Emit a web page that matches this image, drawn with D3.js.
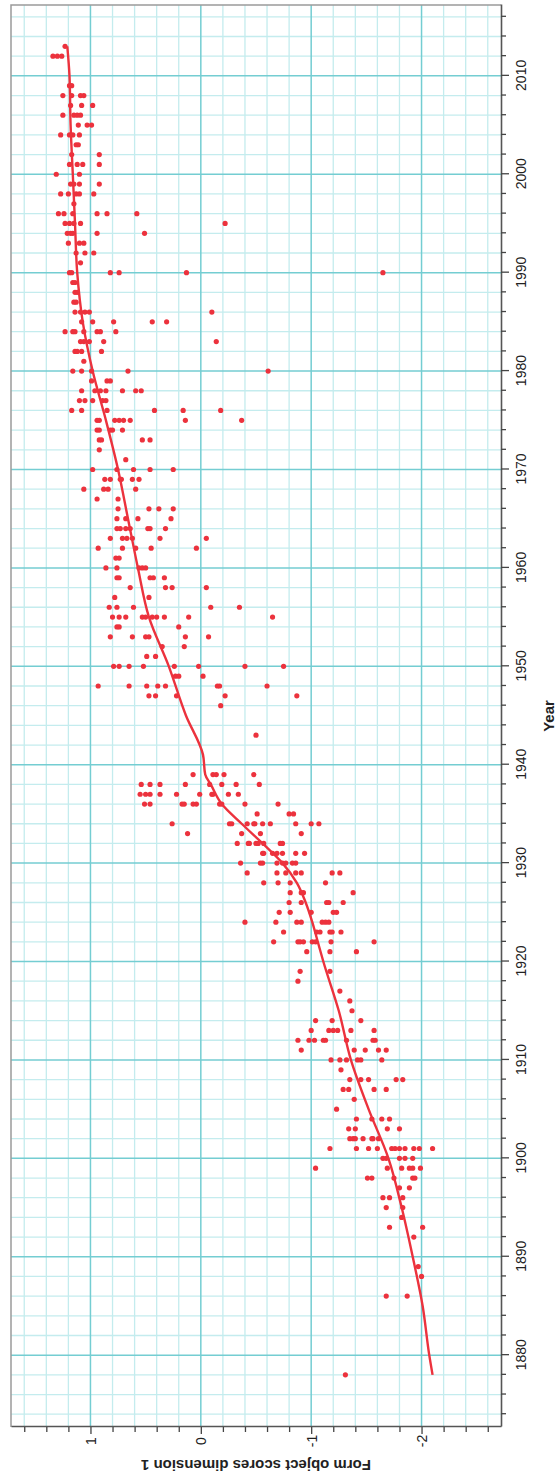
<!DOCTYPE html>
<html>
<head>
<meta charset="utf-8">
<script src="https://cdn.jsdelivr.net/npm/d3@7"></script>
<style>
body { margin: 0; background: #fff; }
svg text { font-family: Arial, "Liberation Sans", sans-serif; fill: #222; }
</style>
</head>
<body>
<div id="chart"></div>
<script>
// scatter rows: one year per row, all object scores of that year
var dotYears = [2013, 2012, 2009, 2008, 2007, 2006, 2005, 2004, 2003, 2002, 2001, 2000,
    1999, 1998, 1997, 1996, 1995, 1994, 1993, 1992, 1991, 1990,
    1989, 1988, 1987, 1986, 1985, 1984, 1983, 1982, 1981, 1980,
    1979, 1978, 1977, 1976, 1975, 1974, 1973, 1972, 1971, 1970,
    1969, 1968, 1967, 1966, 1965, 1964, 1963, 1962, 1961, 1960,
    1959, 1958, 1957, 1956, 1955, 1954, 1953, 1952, 1951, 1950,
    1949, 1948, 1947, 1946, 1943, 1939, 1938, 1937, 1936, 1935,
    1934, 1933, 1932, 1931, 1930, 1929, 1928, 1927, 1926, 1925,
    1924, 1923, 1922, 1921, 1919, 1918, 1917, 1916, 1915, 1914,
    1913, 1912, 1911, 1910, 1909, 1908, 1907, 1906, 1905, 1904,
    1903, 1902, 1901, 1900, 1899, 1898, 1897, 1896, 1895, 1894,
    1893, 1892, 1889, 1888, 1886, 1878];

var dotScores = [
    [1.23], [1.34, 1.30, 1.26], [1.19, 1.17], [1.25, 1.17, 1.09, 1.06], [1.18, 1.08, 0.98],
    [1.25, 1.15, 1.12, 1.09], [1.11, 1.03, 0.99], [1.27, 1.19, 1.16, 1.10], [1.13, 1.11],
    [1.17, 0.92], [1.19, 1.12, 1.07, 0.92], [1.31, 1.10],
    [1.18, 1.15, 1.10, 0.92], [1.27, 1.20, 1.13, 1.10, 0.97], [1.15],
    [1.29, 1.24, 1.16, 0.94, 0.85, 0.58], [1.23, 1.19, 1.15, 1.09, -0.22],
    [1.21, 1.18, 1.16, 0.94, 0.51], [1.20, 1.10, 1.06], [1.13, 1.05, 0.97], [1.09],
    [1.19, 1.17, 0.82, 0.74, 0.13, -1.65],
    [1.16, 1.14], [1.14, 1.12], [1.15, 1.13], [1.14, 1.09, 1.05, 1.01, -0.10],
    [1.08, 0.98, 0.79, 0.44, 0.31], [1.23, 1.16, 1.14, 1.06, 0.94, 0.91, 0.77],
    [1.09, 1.06, 1.01, 0.88, -0.14], [1.14, 1.12, 1.08, 0.90], [1.06],
    [1.16, 1.08, 0.99, 0.66, -0.61],
    [0.99, 0.85, 0.82], [1.08, 0.96, 0.91, 0.86, 0.71, 0.59, 0.54], [1.10, 1.05, 0.98, 0.89, 0.86],
    [1.17, 1.08, 0.85, 0.42, 0.16, -0.18], [0.94, 0.92, 0.78, 0.74, 0.70, 0.64, 0.14, -0.37],
    [0.94, 0.92, 0.82, 0.80, 0.71], [0.92, 0.90, 0.53, 0.46], [0.92], [0.68],
    [0.98, 0.76, 0.61, 0.46, 0.25],
    [0.87, 0.82, 0.73, 0.72, 0.62, 0.56], [1.06, 0.88, 0.84, 0.59], [0.94, 0.75],
    [0.75, 0.47, 0.38, 0.25], [0.76, 0.68, 0.57, 0.27], [0.76, 0.73, 0.68, 0.64, 0.48, 0.46, 0.32],
    [0.82, 0.71, 0.67, 0.62, 0.37, -0.05], [0.93, 0.71, 0.59, 0.45, 0.04], [0.77, 0.74],
    [0.86, 0.76, 0.56, 0.53, 0.50],
    [0.76, 0.74, 0.46, 0.43, 0.33], [0.64, 0.32, 0.26, -0.05], [0.78, 0.47],
    [0.83, 0.76, 0.61, -0.09, -0.35], [0.80, 0.74, 0.68, 0.53, 0.50, 0.44, 0.40, 0.33, 0.11, -0.65],
    [0.76, 0.74, 0.20], [0.82, 0.62, 0.50, 0.47, 0.14, -0.07], [0.35, 0.15], [0.49, 0.41],
    [0.79, 0.74, 0.65, 0.52, 0.24, 0.02, -0.40, -0.75],
    [0.23, 0.20, -0.02], [0.93, 0.65, 0.49, 0.39, 0.32, -0.15, -0.17, -0.60],
    [0.47, 0.41, 0.22, -0.22, -0.87], [-0.18], [-0.50],
    [0.07, -0.11, -0.14, -0.21, -0.48], [0.54, 0.46, 0.37, 0.14, -0.08, -0.19, -0.32, -0.53],
    [0.55, 0.50, 0.46, 0.37, 0.22, 0.01, -0.10, -0.11, -0.25, -0.34],
    [0.51, 0.46, 0.17, 0.15, 0.07, 0.04, -0.17, -0.19, -0.40, -0.70], [-0.51, -0.80, -0.84],
    [0.26, -0.26, -0.28, -0.42, -0.48, -0.49, -0.56, -0.63, -0.86, -1.00, -1.07],
    [0.12, -0.37, -0.54, -0.91], [-0.33, -0.43, -0.44, -0.50, -0.52, -0.57, -0.72, -0.74],
    [-0.56, -0.57, -0.65, -0.69, -0.74, -0.86, -0.94], [-0.36, -0.54, -0.56, -0.69, -0.74, -0.77, -0.83, -0.86],
    [-0.42, -0.69, -0.77, -0.86, -0.91, -1.19, -1.26], [-0.57, -0.70, -0.81, -1.13],
    [-0.81, -0.91, -0.93, -1.38], [-0.80, -0.91, -1.14, -1.16, -1.29], [-0.71, -0.81, -1.00, -1.20, -1.23],
    [-0.40, -0.68, -0.87, -0.91, -1.10, -1.13, -1.16], [-0.75, -1.05, -1.08, -1.17, -1.19, -1.27],
    [-0.66, -0.88, -0.90, -0.93, -1.01, -1.04, -1.18, -1.57], [-0.96, -1.17, -1.41],
    [-0.90, -1.17], [-0.88], [-1.26], [-1.35], [-1.37], [-1.04, -1.19, -1.45],
    [-1.00, -1.16, -1.20, -1.24, -1.36, -1.57], [-0.88, -0.98, -1.03, -1.11, -1.13, -1.32, -1.56, -1.58],
    [-0.91, -1.39, -1.49, -1.61, -1.68], [-1.18, -1.26, -1.32, -1.42, -1.45, -1.64], [-1.27],
    [-1.35, -1.45, -1.52, -1.77, -1.83], [-1.29, -1.34, -1.57, -1.68], [-1.39], [-1.23],
    [-1.41, -1.55, -1.64, -1.71],
    [-1.34, -1.40, -1.69, -1.80], [-1.35, -1.38, -1.40, -1.47, -1.55, -1.56, -1.61],
    [-1.17, -1.41, -1.52, -1.60, -1.73, -1.76, -1.80, -1.85, -1.93, -1.98, -2.10],
    [-1.65, -1.68, -1.80, -1.85, -1.92], [-1.04, -1.69, -1.82, -1.89, -1.92, -1.99],
    [-1.51, -1.55, -1.75, -1.92, -1.94], [-1.80, -1.89], [-1.65, -1.71, -1.83], [-1.68, -1.83], [-1.82],
    [-1.71, -2.01], [-1.93], [-1.97], [-2.00], [-1.68, -1.87], [-1.31]
];

// fitted curve
var fitYears = [2013, 2010, 2005, 2000, 1995, 1990, 1985, 1980, 1975, 1970, 1965, 1960,
    1955, 1950, 1945, 1941, 1939, 1938, 1936, 1934, 1932, 1930, 1928, 1926, 1924,
    1922, 1920, 1915, 1910, 1905, 1900, 1895, 1890, 1885, 1880, 1878];
var fitScores = [1.21, 1.19, 1.18, 1.16, 1.14, 1.12, 1.07, 0.98, 0.86, 0.75, 0.66, 0.57,
    0.47, 0.29, 0.135, -0.02, -0.04, -0.09, -0.19, -0.37, -0.56, -0.74, -0.87, -0.95, -1.01,
    -1.06, -1.11, -1.25, -1.36, -1.52, -1.70, -1.82, -1.92, -2.01, -2.07, -2.10];

var yearLabels = [1880, 1890, 1900, 1910, 1920, 1930, 1940, 1950, 1960, 1970, 1980, 1990, 2000, 2010];
var scoreLabels = [-2, -1, 0, 1];

// the chart is drawn in its usual orientation and then turned a quarter turn
var pageW = 559, pageH = 1484;
var W = pageH, H = pageW;
var plot = {left: 57, right: 1479, top: 11, bottom: 501};

var svg = d3.select("#chart")
    .append("svg")
    .attr("width", pageW)
    .attr("height", pageH);

var g = svg.append("g")
    .attr("transform", "translate(0," + pageH + ") rotate(-90)");

var x = d3.scaleLinear().domain([1872.7, 2017.2]).range([plot.left, plot.right]);
var y = d3.scaleLinear().domain([-2.72, 1.72]).range([plot.bottom, plot.top]);

var yearTicks = d3.range(1874, 2017, 2);
var scoreTicks = d3.range(-13, 9).map(function (i) { return +(i * 0.2).toFixed(1); });
function isMajorScore(d) { return Math.abs(d - Math.round(d)) < 1e-6; }

//////////
// GRID //
//////////
var grid = g.append("g");
grid.selectAll(".vminor")
    .data(yearTicks.filter(function (d) { return d % 10 !== 0; }))
    .enter().append("line")
    .attr("x1", function (d) { return x(d); }).attr("x2", function (d) { return x(d); })
    .attr("y1", plot.top).attr("y2", plot.bottom)
    .attr("stroke", "#c4ecee").attr("stroke-width", 1.3);
grid.selectAll(".hminor")
    .data(scoreTicks.filter(function (d) { return !isMajorScore(d); }))
    .enter().append("line")
    .attr("x1", plot.left).attr("x2", plot.right)
    .attr("y1", function (d) { return y(d); }).attr("y2", function (d) { return y(d); })
    .attr("stroke", "#c4ecee").attr("stroke-width", 1.3);
grid.selectAll(".vmajor")
    .data(yearLabels)
    .enter().append("line")
    .attr("x1", function (d) { return x(d); }).attr("x2", function (d) { return x(d); })
    .attr("y1", plot.top).attr("y2", plot.bottom)
    .attr("stroke", "#74cdd2").attr("stroke-width", 1.5);
grid.selectAll(".hmajor")
    .data(scoreLabels)
    .enter().append("line")
    .attr("x1", plot.left).attr("x2", plot.right)
    .attr("y1", function (d) { return y(d); }).attr("y2", function (d) { return y(d); })
    .attr("stroke", "#74cdd2").attr("stroke-width", 1.5);

// frame (light sides)
g.append("path")
    .attr("d", "M" + plot.left + "," + plot.top + "H" + plot.right + "V" + plot.bottom)
    .attr("fill", "none").attr("stroke", "#9a9a9a").attr("stroke-width", 1.5);

//////////
// AXIS //
//////////
var xAxis = g.append("g")
    .attr("transform", "translate(0," + plot.bottom + ")")
    .call(d3.axisBottom(x).tickValues(yearTicks).tickSize(5).tickSizeOuter(0)
        .tickFormat(function (d) { return d % 10 === 0 ? d : ""; }));
xAxis.selectAll(".tick line")
    .attr("y2", function (d) { return d % 10 === 0 ? 8 : 5; })
    .attr("stroke", "#444").attr("stroke-width", 1.3);
xAxis.selectAll(".tick text")
    .attr("y", 20).attr("dy", "0.36em")
    .style("font-size", "14px");
xAxis.select(".domain").attr("stroke", "#555").attr("stroke-width", 1.6);

var yAxis = g.append("g")
    .attr("transform", "translate(" + plot.left + ",0)")
    .call(d3.axisLeft(y).tickValues(scoreTicks).tickSize(5).tickSizeOuter(0)
        .tickFormat(function (d) { return isMajorScore(d) ? String(Math.round(d)) : ""; }));
yAxis.selectAll(".tick line")
    .attr("x2", function (d) { return isMajorScore(d) ? -7 : -5; })
    .attr("stroke", "#444").attr("stroke-width", 1.3);
yAxis.selectAll(".tick text")
    .attr("x", -14).attr("dy", "0.36em")
    .attr("text-anchor", "middle")
    .style("font-size", "14px");
yAxis.select(".domain").attr("stroke", "#555").attr("stroke-width", 1.6);

// axis titles
g.append("text")
    .attr("x", (plot.left + plot.right) / 2)
    .attr("y", 549)
    .attr("dy", "0.36em")
    .attr("text-anchor", "middle")
    .style("font-size", "15px").style("font-weight", "bold")
    .text("Year");

g.append("text")
    .attr("transform", "translate(19," + ((plot.top + plot.bottom) / 2) + ") rotate(-90)")
    .attr("dy", "0.36em")
    .attr("text-anchor", "middle")
    .style("font-size", "15px").style("font-weight", "bold")
    .text("Form object scores dimension 1");

//////////
// MARKS //
//////////
var dots = [];
dotYears.forEach(function (yr, i) {
    dotScores[i].forEach(function (s) { dots.push({year: yr, score: s}); });
});

g.append("g").selectAll("circle")
    .data(dots)
    .enter().append("circle")
    .attr("cx", function (d) { return x(d.year); })
    .attr("cy", function (d) { return y(d.score); })
    .attr("r", 2.6)
    .attr("fill", "#ec323d");

var fit = fitYears.map(function (yr, i) { return [yr, fitScores[i]]; });
g.append("path")
    .datum(fit)
    .attr("fill", "none")
    .attr("stroke", "#ec323d")
    .attr("stroke-width", 2.4)
    .attr("stroke-linejoin", "round")
    .attr("d", d3.line()
        .curve(d3.curveMonotoneX)
        .x(function (d) { return x(d[0]); })
        .y(function (d) { return y(d[1]); })
        (fit.slice().reverse()));
</script>
</body>
</html>
